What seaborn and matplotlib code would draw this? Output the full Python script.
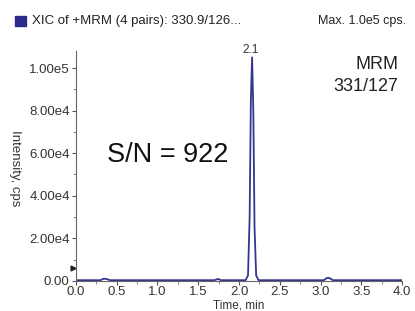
import matplotlib
matplotlib.use("Agg")
import matplotlib.pyplot as plt
import seaborn as sns
import pandas as pd

sns.set_theme(style="white")
plt.rcParams['font.family'] = ['Liberation Sans', 'DejaVu Sans']

# data
time_min = [0.00, 0.30, 0.34, 0.37, 0.42, 1.70, 1.74, 1.78, 2.08, 2.11, 2.13, 2.145, 2.16,
            2.175, 2.19, 2.21, 2.24, 3.04, 3.08, 3.11, 3.15, 4.00]
intensity = [300, 300, 1000, 900, 300, 300, 900, 300, 300, 2500, 30000, 85000, 105000,
             80000, 25000, 2500, 300, 300, 1400, 1300, 300, 300]
x_ticks = [0.0, 0.5, 1.0, 1.5, 2.0, 2.5, 3.0, 3.5, 4.0]
y_ticks = [0, 20000, 40000, 60000, 80000, 100000]
y_tick_labels = ["0.00", "2.00e4", "4.00e4", "6.00e4", "8.00e4", "1.00e5"]

df = pd.DataFrame({"time": time_min, "intensity": intensity})

fig = plt.figure(figsize=(4.15, 3.11), dpi=100)
ax = fig.add_axes([0.183, 0.097, 0.786, 0.739])
sns.lineplot(data=df, x="time", y="intensity", ax=ax, color="#35358f", linewidth=1.3)

ax.set_xlim(0, 4.0)
ax.set_ylim(0, 108000)
ax.set_xticks(x_ticks)
ax.set_xticklabels([f"{t:.1f}" for t in x_ticks], fontsize=9.5, color="#333333")
ax.set_yticks(y_ticks)
ax.set_yticklabels(y_tick_labels, fontsize=9.5, color="#333333")
ax.set_yticks([10000, 30000, 50000, 70000, 90000], minor=True)
ax.set_xticks([0.25 * i for i in range(17)], minor=True)
ax.tick_params(axis="y", which="major", direction="out", length=3, width=0.8,
               color="#555555", pad=1.5, left=True)
ax.tick_params(axis="x", which="major", direction="out", length=3, width=0.8,
               color="#555555", pad=1, bottom=True)
ax.tick_params(axis="both", which="minor", direction="out", length=2, width=0.6,
               color="#777777", bottom=True, left=True)
for s in ["top", "right"]:
    ax.spines[s].set_visible(False)
for s in ["left", "bottom"]:
    ax.spines[s].set_color("#666666")
    ax.spines[s].set_linewidth(0.8)

ax.set_xlabel("")
ax.set_ylabel("")
fig.text(0.576, 0.017, "Time, min", fontsize=8.5, color="#333333", ha="center", va="center")
fig.text(0.037, 0.46, "Intensity, cps", fontsize=9.5, color="#333333", rotation=270,
         ha="center", va="center")

# peak label
ax.annotate("2.1", xy=(2.16, 105000), xytext=(-1, 1), textcoords="offset points",
            ha="center", va="bottom", fontsize=8.5, color="#333333", annotation_clip=False)

fig.text(0.405, 0.50, "S/N = 922", fontsize=19.5, color="#111111", ha="center", va="center")
fig.text(0.96, 0.757, "MRM\n331/127", fontsize=13, color="#222222", ha="right", va="center",
         linespacing=1.4, multialignment="right")

# header line
fig.patches.append(plt.Rectangle((0.036, 0.915), 0.026, 0.033, transform=fig.transFigure,
                                 color="#2a2a8a", figure=fig))
fig.text(0.078, 0.932, "XIC of +MRM (4 pairs): 330.9/126...", fontsize=9.5, color="#222222",
         ha="left", va="center")
fig.text(0.978, 0.932, "Max. 1.0e5 cps.", fontsize=9, color="#222222", ha="right", va="center")

# small marker on y axis
ax.plot([-0.03], [6000], marker=">", color="#222222", markersize=3.5, clip_on=False)

fig.savefig("out.png", dpi=100)
